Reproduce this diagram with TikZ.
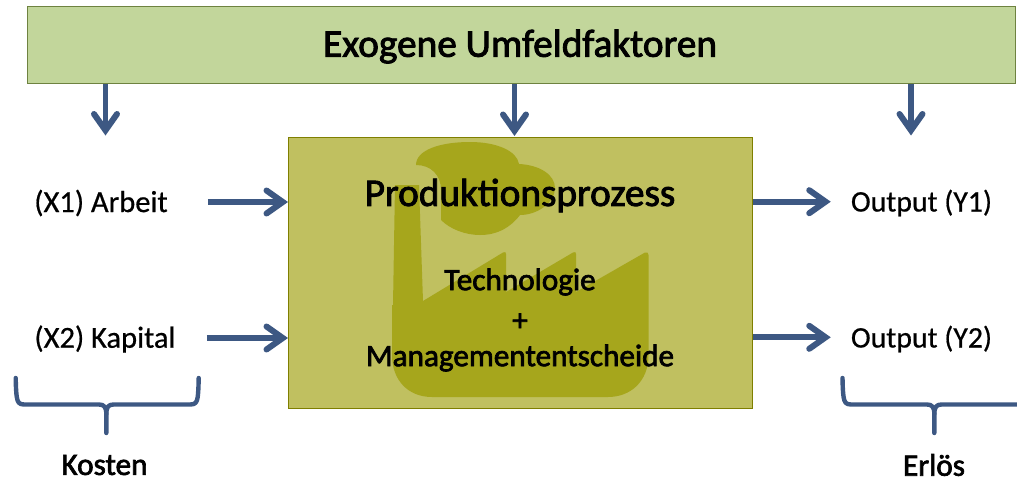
\documentclass[tikz,border=0pt]{standalone}
\usepackage{fontspec}
\setmainfont{Carlito}
\newfontfamily\medfont[FakeBold=2.2]{Carlito}
\newfontfamily\lightbold[FakeBold=0.6]{Carlito}
\usetikzlibrary{arrows.meta}
\definecolor{arrowblue}{HTML}{3D5883}
\definecolor{greenfill}{HTML}{C2D69B}
\definecolor{greenline}{HTML}{6E8240}
\definecolor{prodfill}{HTML}{C0C060}
\definecolor{prodline}{HTML}{7F7F00}
\definecolor{factory}{HTML}{A6A61C}
\pgfdeclarearrow{
  name=bigbarb,
  setup code={
    \pgfarrowssettipend{0pt}
    \pgfarrowssetbackend{-24pt}
    \pgfarrowssetlineend{-5pt}
    \pgfarrowssetvisualbackend{-5pt}
  },
  drawing code={
    \pgfsetlinewidth{6pt}
    \pgfsetroundcap
    \pgfsetmiterjoin
    \pgfsetmiterlimit{10}
    \pgfpathmoveto{\pgfqpoint{-21.5pt}{11.5pt}}
    \pgfpathlineto{\pgfqpoint{-5.2pt}{0pt}}
    \pgfpathlineto{\pgfqpoint{-21.5pt}{-11.5pt}}
    \pgfusepathqstroke
  }
}
\tikzset{
  arr/.style={draw=arrowblue,line width=5.8pt,line cap=butt,-{bigbarb}},
  bracepath/.style={draw=arrowblue,line width=4.4pt,line cap=round,line join=round},
  lbl/.style={font=\lightbold\fontsize{30.5}{33}\selectfont,inner sep=0pt,text=black},
  lbly/.style={font=\lightbold\fontsize{29.8}{33}\selectfont,inner sep=0pt,text=black},
  head/.style={font=\medfont\fontsize{39.3}{42}\selectfont,inner sep=0pt,text=black},
  sub/.style={font=\medfont\fontsize{31.2}{34}\selectfont,inner sep=0pt,text=black},
}
\begin{document}
\begin{tikzpicture}[x=1pt,y=-1pt]
\useasboundingbox (0,0) rectangle (1017,479);
\clip (0,0) rectangle (1017,479);
\fill[white] (0,0) rectangle (1017,479);
% boxes
\node[draw=greenline,fill=greenfill,line width=1pt,minimum width=988pt,minimum height=77pt,inner sep=0pt,anchor=north west] (ex) at (26.5,6) {};
\node[draw=prodline,fill=prodfill,line width=1pt,minimum width=464pt,minimum height=271pt,inner sep=0pt,anchor=north west] (prod) at (288,137) {};
% factory
\fill[factory] (395,185) -- (419,185) -- (423,301) -- (503,252.5)
  .. controls (505,251.5) and (506,252) .. (506,254) -- (506,292) -- (573,252.5)
  .. controls (575,251.5) and (576,252) .. (576,254) -- (576,292) -- (645,252.5)
  .. controls (647,251.5) and (648.5,253) .. (648.5,255) -- (648.5,355)
  .. controls (648.5,382) and (630,397) .. (608,397) -- (432,397)
  .. controls (408,397) and (392,380) .. (392,355) -- (392,305) -- (393,305) -- cycle;
\fill[factory] (416,165) .. controls (416,150) and (440,142) .. (470,142)
  .. controls (497,142) and (517,151) .. (519,164)
  .. controls (540,165) and (555,175) .. (555,188)
  .. controls (555,202) and (538,215) .. (520,215)
  .. controls (510,228) and (497,235) .. (480,235)
  .. controls (465,235) and (450,229) .. (441,220)
  -- (441,190) .. controls (441,175) and (431,165) .. (416,165) -- cycle;
% texts
\node[head] (extext) at (520,46.5) {Exogene Umfeldfaktoren};
\node[head] (prodtitle) at (520,195.5) {Produktionsprozess};
\node[sub] (tech) at (520,282) {Technologie};
\node[sub] (plus) at (520,322) {+};
\node[sub] (mgmt) at (520,358) {Managemententscheide};
\node[lbl] (x1) at (101,203) {(X1) Arbeit};
\node[lbl] (x2) at (105,339) {(X2) Kapital};
\node[lbly] (y1) at (921.5,203) {Output (Y1)};
\node[lbly] (y2) at (921.5,339) {Output (Y2)};
\node[sub] (kosten) at (104.5,465) {Kosten};
\node[sub] (erloes) at (934,465) {Erlös};
% arrows
\coordinate (a1) at (105.5,135.5);
\coordinate (a3) at (911,135.5);
\coordinate (a2) at (514.5,136);
\draw[arr] (a1 |- ex.south) -- (a1);
\draw[arr] (a2 |- ex.south) -- (a2);
\draw[arr] (a3 |- ex.south) -- (a3);
\draw[arr] ([xshift=40pt,yshift=1pt]x1.east) -- ([yshift=1pt]prod.west |- x1.east);
\draw[arr] ([xshift=31pt,yshift=1pt]x2.east) -- ([yshift=1pt]prod.west |- x2.east);
\draw[arr] ([yshift=1.3pt]prod.east |- y1.west) -- ([xshift=-20pt,yshift=1.3pt]y1.west);
\draw[arr] ([yshift=1.7pt]prod.east |- y2.west) -- ([xshift=-20pt,yshift=1.7pt]y2.west);
% braces
\draw[bracepath] (15.7,378) .. controls (15.9,388) and (16.2,393) .. (16.8,397)
  .. controls (17.5,402) and (19,404.5) .. (24,404.5) -- (99,404.5)
  .. controls (104,404.5) and (106.3,407) .. (106.3,414) -- (106.3,433);
\draw[bracepath] (198.7,378) .. controls (198.5,388) and (198.2,393) .. (197.7,397)
  .. controls (197,402) and (195.5,404.5) .. (190.5,404.5) -- (113.5,404.5)
  .. controls (108.5,404.5) and (106.3,407) .. (106.3,414);
\draw[bracepath] (842.5,378) .. controls (842.7,388) and (843,393) .. (843.6,397)
  .. controls (844.3,402) and (845.8,404.5) .. (850.8,404.5) -- (927,404.5)
  .. controls (932,404.5) and (934.3,407) .. (934.3,414) -- (934.3,433);
\draw[bracepath] (1022,404.5) -- (941.5,404.5)
  .. controls (936.5,404.5) and (934.3,407) .. (934.3,414);
\end{tikzpicture}
\end{document}
